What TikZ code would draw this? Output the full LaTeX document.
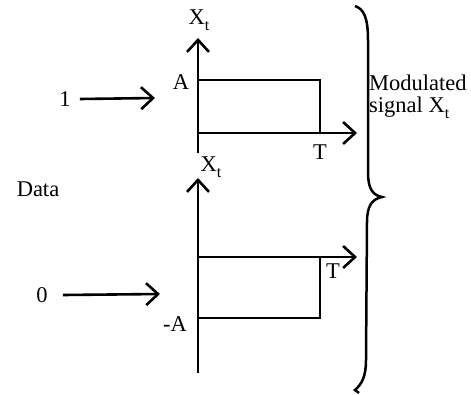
\documentclass[tikz,border=0pt]{standalone}
\usepackage{fontspec}
\setmainfont{Liberation Serif}
\usetikzlibrary{arrows.meta}
\newcommand{\subt}{\raisebox{-0.28em}{\fontsize{16}{16}\selectfont t}}
\begin{document}
\begin{tikzpicture}[x=1pt,y=-1pt,
  lbl/.style={inner sep=0pt,font=\fontsize{22.5}{25}\selectfont},
  axis/.style={line width=2.9pt,-{Straight Barb[length=12pt,width=22pt,line width=2.6pt]}},
  inarrow/.style={line width=2.6pt,-{Straight Barb[length=12pt,width=22pt,line width=2.6pt]}},
  pulse/.style={line width=2.5pt},
  bracel/.style={line width=2.5pt}]
\useasboundingbox (0,0) rectangle (471,394);
% top graph
\coordinate (o1) at (198,133);
\coordinate (y1b) at (198,153);
\coordinate (y1t) at (198,38);
\coordinate (x1e) at (357,133);
\coordinate (a1) at (198,80);
\coordinate (r1) at (320,80);
\coordinate (t1) at (320,133);
\draw[axis] (y1b) -- (y1t);
\draw[axis] (o1) -- (x1e);
\draw[pulse] (a1) -- (r1) -- (t1);
\node[lbl] (xt1) at (199,20) {X\subt};
\node[lbl] (la) at (181,82) {A};
\node[lbl] (lt1) at (320,152) {T};
\node[lbl] (one) at (65,99) {1};
\coordinate (in1) at (155,98);
\draw[inarrow] (one.east) ++(9,0) coordinate (s1) (s1) -- (in1);
% bottom graph
\coordinate (o2) at (198,257);
\coordinate (y2b) at (198,373);
\coordinate (y2t) at (198,178);
\coordinate (x2e) at (357,257);
\coordinate (a2) at (198,318);
\coordinate (r2) at (320,318);
\coordinate (t2) at (320,257);
\draw[axis] (y2b) -- (y2t);
\draw[axis] (o2) -- (x2e);
\draw[pulse] (a2) -- (r2) -- (t2);
\node[lbl] (xt2) at (211,167) {X\subt};
\node[lbl] (lt2) at (333,271) {T};
\node[lbl] (lma) at (175,324) {-A};
\node[lbl] (zero) at (42,295) {0};
\coordinate (in2) at (160,294);
\draw[inarrow] (zero.east) ++(15,0) coordinate (s2) (s2) -- (in2);
\node[lbl] (data) at (38,189) {Data};
% brace
\coordinate (bt) at (355,6);
\coordinate (bm) at (382,197);
\coordinate (bb) at (355,390);
\draw[bracel] (bt) .. controls (364,9) and (368,18) .. (368,40)
  -- (368,172) .. controls (368,188) and (372,195) .. (bm)
  .. controls (372,199) and (367,206) .. (367,222)
  -- (366,360) .. controls (366,376) and (362,384) .. (bb)
  -- (359,393);
\node[lbl,align=left,anchor=west] (mod) at (369,97) {Modulated\\[-3pt]signal X\subt};
\end{tikzpicture}
\end{document}
